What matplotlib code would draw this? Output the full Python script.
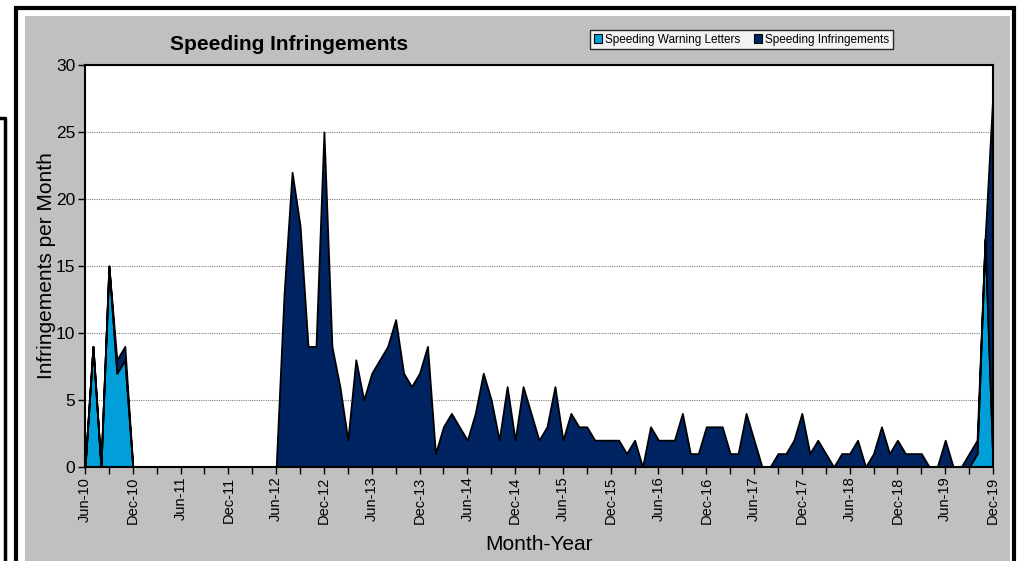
import numpy as np
import pandas as pd
import matplotlib
matplotlib.use("Agg")
import matplotlib.pyplot as plt
from matplotlib.patches import Rectangle
from matplotlib.lines import Line2D

plt.rcParams['font.family'] = ['Liberation Sans', 'DejaVu Sans']

# monthly series, Jun-10 .. Dec-19
months = pd.date_range('2010-06-01', periods=115, freq='MS').strftime('%b-%y').tolist()

warning_letters = [0, 9, 0, 15, 7, 8] + [0] * 106 + [1, 17, 0]

infringements = [
    0, 0, 0, 0, 1, 1,
    0, 0, 0, 0, 0, 0, 0, 0, 0, 0, 0, 0, 0, 0, 0, 0, 0, 0, 0,
    13, 22, 18, 9, 9, 25, 9, 6, 2, 8, 5, 7, 8, 9, 11, 7, 6, 7, 9,
    1, 3, 4, 3, 2, 4, 7, 5, 2, 6, 2, 6, 4, 2, 3, 6, 2, 4, 3, 3,
    2, 2, 2, 2, 1, 2, 0, 3, 2, 2, 2, 4, 1, 1, 3, 3, 3, 1, 1, 4,
    2, 0, 0, 1, 1, 2, 4, 1, 2, 1, 0, 1, 1, 2, 0, 1, 3, 1, 2, 1,
    1, 1, 0, 0, 2, 0, 0, 1, 1, 0, 28,
]

series_names = ['Speeding Warning Letters', 'Speeding Infringements']
colors = ['#009FDA', '#002462']
y_ticks = [0, 5, 10, 15, 20, 25, 30]

W, H = 1019, 561
fig = plt.figure(figsize=(W / 100, H / 100), dpi=100)
fig.patch.set_facecolor('white')

# outer frame and grey chart area
fig.add_artist(Rectangle((16 / W, -0.05), 998 / W, (561 - 8) / H + 0.05,
                         transform=fig.transFigure, facecolor='white',
                         edgecolor='black', linewidth=3, zorder=-3))
fig.add_artist(Rectangle((25 / W, 0), 985 / W, (561 - 16) / H,
                         transform=fig.transFigure, facecolor='#C0C0C0',
                         edgecolor='none', zorder=-2))
# bits of a neighbouring frame on the left
fig.add_artist(Line2D([0, 5 / W, 5 / W], [1 - 118 / H, 1 - 118 / H, 0],
                      transform=fig.transFigure, color='black', linewidth=2.5,
                      zorder=-1))

ax = fig.add_axes([85 / W, 1 - 467 / H, 908 / W, 402 / H])
ax.set_zorder(2)
ax.set_facecolor('white')

x = np.arange(len(months))
ax.stackplot(x, warning_letters, infringements, colors=colors,
             edgecolor='black', linewidth=1.3, labels=series_names, zorder=2)

ax.set_xlim(0, len(months) - 1)
ax.set_ylim(0, 30)
ax.set_yticks(y_ticks)
ax.set_yticklabels([str(v) for v in y_ticks], fontsize=12.5)
for v in y_ticks[1:-1]:
    ax.axhline(v, color='#808080', linewidth=0.8, linestyle=(0, (1, 1)), zorder=0.5)

ax.set_xticks(x[::3], minor=False)
ax.set_xticklabels([m if i % 2 == 0 else '' for i, m in enumerate(months[::3])],
                   rotation=90, fontsize=10.5)
ax.tick_params(axis='both', direction='out', length=5, width=1, color='black', pad=2)

for s in ax.spines.values():
    s.set_linewidth(1.5)
    s.set_color('black')
    s.set_zorder(3)

ax.set_ylabel('Infringements per Month', fontsize=15, labelpad=0)
ax.set_xlabel('Month-Year', fontsize=15, labelpad=8)

fig.text(289 / W, 1 - 44 / H, 'Speeding Infringements', fontsize=15,
         fontweight='bold', ha='center', va='center')

leg = ax.legend(loc='upper left', bbox_to_anchor=(590 / W, 1 - 30 / H),
                bbox_transform=fig.transFigure, ncol=2, fontsize=8.5,
                frameon=True, fancybox=False, edgecolor='black',
                handlelength=0.7, handleheight=0.7, handletextpad=0.3,
                columnspacing=1.1, borderpad=0.3, borderaxespad=0)
leg.get_frame().set_linewidth(1)
for h in leg.legend_handles:
    h.set_edgecolor('black')
    h.set_linewidth(0.8)

fig.savefig('out.png', dpi=100)
